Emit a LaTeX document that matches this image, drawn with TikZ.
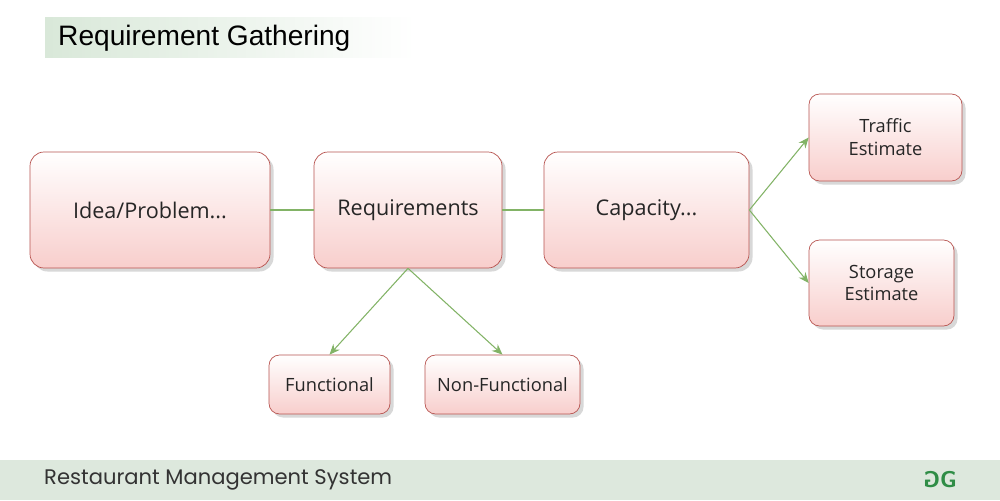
\documentclass[tikz,border=0pt]{standalone}
\usepackage{fontspec}
\setmainfont{Open Sans}
\newfontfamily\arialf{Liberation Sans}
\newfontfamily\popf{Poppins}
\usetikzlibrary{shadows,arrows.meta}
\definecolor{bord}{HTML}{B85450}
\definecolor{pinkA}{HTML}{FFFFFF}
\definecolor{pinkB}{HTML}{F8CECC}
\definecolor{lin}{HTML}{82B366}
\definecolor{foot}{HTML}{DDE8DD}
\definecolor{gfg}{HTML}{2F8D46}
\tikzset{
 box/.style={draw=bord,rounded corners=8pt,top color=pinkA,bottom color=pinkB,
   drop shadow={shadow xshift=2pt,shadow yshift=-2pt,fill=black!25,opacity=0.6},
   align=center,inner sep=0pt,font=\fontsize{12.3}{14.5}\selectfont,text=black!85},
 sbox/.style={box,font=\fontsize{10.4}{13}\selectfont,rounded corners=6pt},
 conn/.style={draw=lin,line width=0.6pt},
 arr/.style={conn,-{Stealth[length=6pt,width=5pt]}}
}
\begin{document}
\begin{tikzpicture}[x=0.02cm,y=-0.02cm]
\useasboundingbox (0,0) rectangle (1000,500);
\fill[white] (0,0) rectangle (1000,500);
% title
\shade[left color=green!40!black!15!white,right color=white] (45,18) rectangle (415,58);
\node[anchor=west,font=\arialf\fontsize{16}{19}\selectfont] (title) at (52,38) {Requirement Gathering};
% footer
\fill[foot] (0,460) rectangle (1000,500);
\node[anchor=west,font=\popf\fontsize{12}{14}\selectfont,text=black!80] (foot) at (38,480) {Restaurant Management System};
\node[font=\sffamily\bfseries\fontsize{13}{14}\selectfont,text=gfg] (logo) at (940,480) {\reflectbox{G}G};
% boxes
\node[box,minimum width=240*0.02cm,minimum height=116*0.02cm] (idea) at (150,210) {Idea/Problem...};
\node[box,minimum width=188*0.02cm,minimum height=116*0.02cm] (req) at (408,210) {Requirements};
\node[box,minimum width=205*0.02cm,minimum height=116*0.02cm] (cap) at (646.5,210) {Capacity...};
\node[sbox,minimum width=153*0.02cm,minimum height=87*0.02cm] (traf) at (885.5,137.5) {Traffic\\Estimate};
\node[sbox,minimum width=145*0.02cm,minimum height=86*0.02cm] (stor) at (881.5,283) {Storage\\Estimate};
\node[sbox,minimum width=121*0.02cm,minimum height=59*0.02cm] (func) at (329.5,384.5) {Functional};
\node[sbox,minimum width=155*0.02cm,minimum height=59*0.02cm] (nfunc) at (502.5,384.5) {Non-Functional};
% connectors
\draw[conn] (idea.east) -- (req.west);
\draw[conn] (req.east) -- (cap.west);
\draw[arr] (cap.east) -- (traf.west);
\draw[arr] (cap.east) -- (stor.west);
\draw[arr] (req.south) -- (func.north);
\draw[arr] (req.south) -- (nfunc.north);
\end{tikzpicture}
\end{document}
